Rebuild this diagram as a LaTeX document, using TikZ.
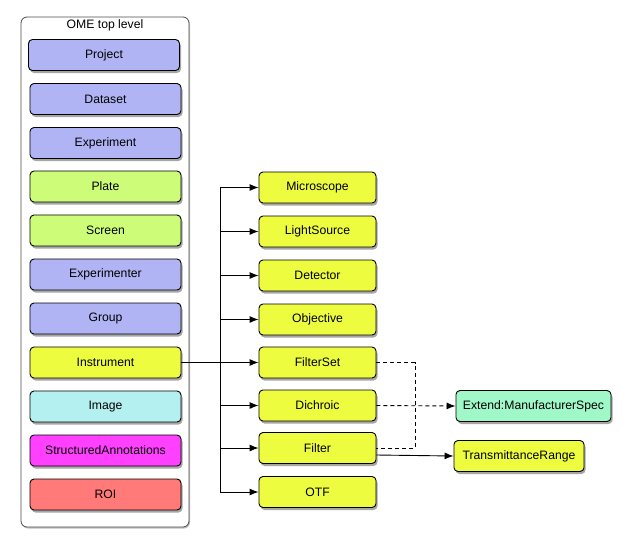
\documentclass[tikz,border=0pt]{standalone}
\usepackage{fontspec}
\setmainfont{Liberation Sans}
\usetikzlibrary{shadows,arrows.meta}
\definecolor{lav}{HTML}{B0B4F4}
\definecolor{lgreen}{HTML}{CCFC78}
\definecolor{yel}{HTML}{EEFC40}
\definecolor{cyanl}{HTML}{B5F0F0}
\definecolor{mag}{HTML}{FF40FF}
\definecolor{salm}{HTML}{FF7A78}
\definecolor{mint}{HTML}{A0F8C8}
\tikzset{
  box/.style={draw=black, line width=0.9pt, rounded corners=4pt, minimum height=31pt,
    inner sep=2pt, font=\fontsize{12.2}{14}\selectfont,
    drop shadow={shadow xshift=1.5pt, shadow yshift=-2.5pt, opacity=0.35, fill=black}},
  lbox/.style={box, minimum width=151pt},
  rbox/.style={box, minimum width=117pt, fill=yel},
  arr/.style={-{Latex[length=9pt,width=7pt]}, line width=0.9pt},
  conn/.style={line width=0.9pt},
}
\begin{document}
\begin{tikzpicture}[x=1pt,y=-1pt]
\useasboundingbox (0,0) rectangle (632,550);
\node[draw=black!70, line width=0.8pt, rounded corners=6pt, fill=white,
  minimum width=168pt, minimum height=510pt,
  drop shadow={shadow xshift=1pt, shadow yshift=-1.5pt, opacity=0.25, fill=black}] (cont) at (105,272) {};
\node[font=\fontsize{12.2}{14}\selectfont] (title) at (105,25) {OME top level};
\node[lbox, fill=lav] (proj) at (104,55) {Project};
\node[lbox, fill=lav] (ds) at (105.5,99) {Dataset};
\node[lbox, fill=lav] (exp) at (105.5,143) {Experiment};
\node[lbox, fill=lgreen] (plate) at (105.5,186.5) {Plate};
\node[lbox, fill=lgreen] (screen) at (105.5,230.5) {Screen};
\node[lbox, fill=lav] (exper) at (105.5,274.5) {Experimenter};
\node[lbox, fill=lav] (grp) at (105.5,318.5) {Group};
\node[lbox, fill=yel] (inst) at (105.5,362.5) {Instrument};
\node[lbox, fill=cyanl] (img) at (105.5,406.5) {Image};
\node[lbox, fill=mag] (sa) at (105.5,450.5) {StructuredAnnotations};
\node[lbox, fill=salm] (roi) at (105.5,494.5) {ROI};

\node[rbox] (mic) at (317.5,187.5) {Microscope};
\node[rbox] (ls) at (317.5,231.5) {LightSource};
\node[rbox] (det) at (317.5,275.5) {Detector};
\node[rbox] (obj) at (317.5,319.5) {Objective};
\node[rbox] (fs) at (317.5,362.5) {FilterSet};
\node[rbox] (dich) at (317.5,405.5) {Dichroic};
\node[rbox] (filt) at (317.5,448) {Filter};
\node[rbox] (otf) at (317.5,492) {OTF};

\node[box, fill=mint, minimum width=155pt] (ext) at (533.5,406) {Extend:ManufacturerSpec};
\node[box, fill=yel, minimum width=130pt] (tr) at (519,456) {TransmittanceRange};

\coordinate (tx) at (220,0);
\coordinate (dx) at (415,0);
\draw[conn] (inst.east) -- (tx |- inst.east);
\draw[conn] (tx |- mic.west) -- (tx |- otf.west);
\foreach \n in {mic,ls,det,obj,fs,dich,filt,otf}{
  \draw[arr] (tx |- \n.west) -- (\n.west);
}
\draw[conn, dashed, dash pattern=on 4pt off 3pt] (fs.east) -| (dx |- filt.east) -- (filt.east);
\draw[arr, dashed, dash pattern=on 4pt off 3pt] (dich.east) -- (ext.west);
\draw[arr] ([yshift=-7pt]filt.east) -- (tr.west);
\end{tikzpicture}
\end{document}
